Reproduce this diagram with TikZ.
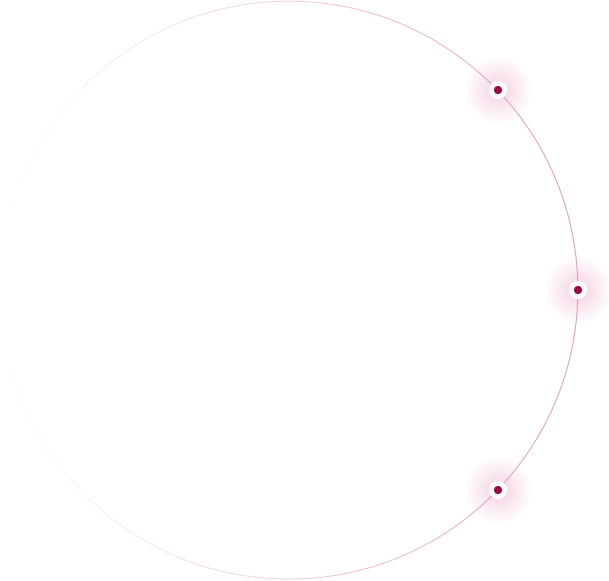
\documentclass[tikz,border=0pt]{standalone}
\usetikzlibrary{fadings}
\definecolor{ringpink}{RGB}{224,166,192}
\definecolor{dotred}{RGB}{150,8,72}
\definecolor{glowpink}{RGB}{225,120,170}
\tikzfading[name=ringfade, left color=transparent!100, right color=transparent!0]
\tikzfading[name=glowfade, inner color=transparent!65, outer color=transparent!100]
\tikzset{
  marker/.style={circle, fill=white, minimum size=18pt, inner sep=0pt,
    path picture={\fill[dotred] (path picture bounding box.center) circle (4.2pt);}},
  glow/.style={glowpink, path fading=glowfade}
}

\begin{document}
\begin{tikzpicture}[x=1pt,y=-1pt]
	\useasboundingbox (0,0) rectangle (609,580);
	\coordinate (c) at (289,290);
	\draw[ringpink, line width=1pt, path fading=ringfade] (c) circle (289pt);
	% the three markers on the ring
	\foreach \name/\x/\y in {upper/498/90, middle/578/290, lower/498/490}{
		\fill[glow] (\x,\y) circle (34pt);
		\node[marker] (\name) at (\x,\y) {};
	}
\end{tikzpicture}
\end{document}
